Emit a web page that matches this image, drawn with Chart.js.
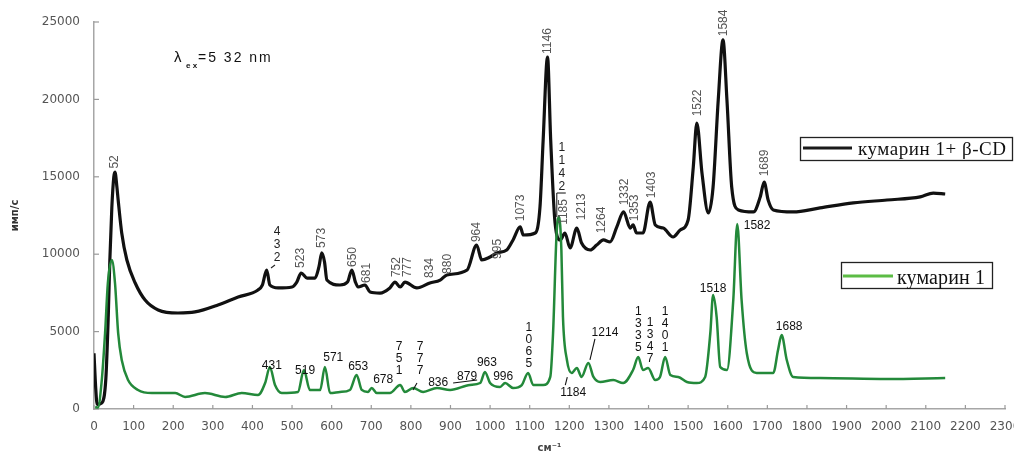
<!DOCTYPE html>
<html><head><meta charset="utf-8">
<script src="https://cdn.jsdelivr.net/npm/chart.js@4.4.1/dist/chart.umd.min.js"></script>
<style>html,body{margin:0;padding:0;background:#fff}#wrap{width:1014px;height:455px}</style>
</head><body><div id="wrap"><canvas id="c" width="1014" height="455"></canvas></div>
<script>
// ---- data (wavenumber cm-1, intensity counts/s) ----
const blackX = [0,4,8,20,30,36,40,45,50,53,58,61,70,83,104,129,162,212,255,313,364,414,425,436,444,465,500,512,523,538,558,568,575,582,588,621,640,651,660,667,684,697,722,747,760,773,785,815,848,874,891,942,966,979,1000,1017,1042,1058,1076,1084,1114,1126,1134,1145,1153,1164,1177,1189,1202,1219,1231,1253,1269,1286,1303,1320,1337,1354,1361,1370,1386,1404,1417,1437,1462,1480,1500,1513,1522,1535,1551,1563,1576,1588,1598,1610,1627,1665,1682,1692,1702,1715,1765,1833,1917,2002,2086,2119,2149];
const blackY = [3600,1500,300,400,2000,6000,9625,13000,15000,15300,14300,13500,11370,9625,8140,7040,6400,6200,6270,6720,7235,7690,8000,8980,8010,7820,7880,8200,8785,8460,8460,9200,10080,9500,8330,8010,8200,8980,8200,7880,8010,7560,7490,7820,8200,7880,8200,7820,8140,8330,8660,8980,10590,9625,9820,10080,10270,10920,11760,11240,11370,13050,17380,22740,17380,12020,10920,11370,10400,11690,10720,10270,10590,10920,10790,11760,12730,11690,11890,11370,11370,13370,11890,11690,11110,11560,12210,15630,18475,15240,12660,14340,19960,23840,19960,14340,12860,12730,13700,14665,13500,12860,12730,12990,13310,13500,13700,13950,13890];
const greenX = [3,10,19,28,35,45,53,61,70,86,111,146,205,230,280,331,373,414,432,444,457,474,515,530,545,571,583,596,621,646,663,676,692,701,714,747,773,785,806,831,866,899,949,975,987,1000,1025,1038,1058,1080,1096,1109,1134,1152,1159,1168,1174,1180,1184,1194,1206,1219,1231,1248,1261,1278,1311,1336,1361,1374,1386,1399,1417,1429,1442,1455,1475,1497,1522,1543,1556,1563,1572,1581,1598,1614,1624,1635,1648,1673,1715,1727,1736,1749,1765,1833,2002,2149];
const greenY = [130,100,1680,4900,8140,9625,8140,4900,3165,1870,1230,1030,1030,780,1030,780,1030,900,1680,2710,1550,1030,1100,2520,1230,1230,2710,1030,1100,1230,2200,1230,1100,1360,1030,1030,1550,1100,1360,1100,1360,1230,1550,1680,2390,1680,1420,1680,1360,1550,2330,1550,1550,2070,4900,11370,12400,10270,5940,3165,2330,2650,2070,2970,2070,1745,1870,1680,2520,3360,2520,2650,1870,2070,3360,2200,2070,1745,1680,2070,4900,7365,5940,2710,2520,7040,11950,7040,3620,2330,2330,3810,4780,3165,2070,2000,1940,2000];
const seriesNames = ['кумарин 1+ β-CD', 'кумарин 1'];

// peak labels: text, anchor wavenumber, anchor intensity
const blackLabelText = ['52','4\n3\n2','523','573','650','681','752','777','834','880','964','995','1073','1146','1\n1\n4\n2','1185','1213','1264','1332','1353','1403','1522','1584','1689'];
const blackLabelX = [53,462,523,576,654,689,765,793,848,894,967,1018,1076,1146,1181,1187,1232,1283,1341,1366,1407,1525,1591,1694];
const blackLabelY = [15960,11430,9760,11050,9820,8790,9170,9170,9110,9370,11430,10340,12990,23770,16860,12730,13050,12210,14020,12990,14470,19770,24940,15890];
const greenLabelText = ['431','519','571','653','678','7\n5\n1','7\n7\n7','836','879','963','996','1\n0\n6\n5','1184','1214','1\n3\n3\n5','1\n3\n4\n7','1\n4\n0\n1','1518','1582','1688'];
const greenLabelX = [449,533,604,667,730,770,823,869,942,992,1033,1098,1210,1290,1374,1404,1442,1563,1674,1755];
const greenLabelY = [2780,2460,3300,2710,1870,4010,4010,1680,2070,2970,2070,5230,1030,4910,6270,5560,6270,7750,11820,5300];

const xTicksMax = 2300, yTicksMax = 25000;

function pts(xs, ys){ return xs.map((x,i)=>({x:x, y:ys[i]})); }

const BLACK = '#111111', GREEN = '#23893a', GREEN_LEG = '#5cbc45';

// leader strokes for some labels (pixel offsets from the label anchor)
const leaderStyle = {
  '4\n3\n2': [[-2,33,-6,36]],
  '1\n1\n4\n2': [[-5,45,4,45],[-5,45,-5,69]],
  '7\n7\n7': [[-3,36,-7,43]],
  '879': [[-14,6,10,3]],
  '1184': [[-8,-8,-6,-16]],
  '1214': [[-10,6,-15,27]]
};

const decorPlugin = {
  id:'decor',
  beforeDatasetsDraw(chart){
    const ctx = chart.ctx, xs = chart.scales.x, ys = chart.scales.y;
    ctx.save();
    ctx.strokeStyle = '#9a9a9a'; ctx.lineWidth = 1.2;
    xs.ticks.forEach(t=>{ const p = xs.getPixelForValue(t.value); ctx.beginPath(); ctx.moveTo(p, ys.bottom); ctx.lineTo(p, ys.bottom-4); ctx.stroke(); });
    ys.ticks.forEach(t=>{ const p = ys.getPixelForValue(t.value); ctx.beginPath(); ctx.moveTo(xs.left, p); ctx.lineTo(xs.left+5, p); ctx.stroke(); });
    ctx.restore();
  },
  afterDatasetsDraw(chart){
    const ctx = chart.ctx, xs = chart.scales.x, ys = chart.scales.y;
    ctx.save();
    const leaders = (t, px, py, col)=>{
      const L = leaderStyle[t]; if (!L) return;
      ctx.strokeStyle = col; ctx.lineWidth = 1.1;
      L.forEach(s=>{ ctx.beginPath(); ctx.moveTo(px+s[0], py+s[1]); ctx.lineTo(px+s[2], py+s[3]); ctx.stroke(); });
    };
    blackLabelText.forEach((t,i)=>{
      const px = xs.getPixelForValue(blackLabelX[i]), py = ys.getPixelForValue(blackLabelY[i]);
      ctx.font = '12px "Liberation Sans", Arial, sans-serif';
      ctx.textAlign = 'center'; ctx.textBaseline = 'middle';
      if (t.indexOf('\n')>=0){
        ctx.fillStyle = '#222';
        t.split('\n').forEach((d,k)=>ctx.fillText(d, px, py + k*13));
      } else {
        ctx.fillStyle = '#555';
        ctx.save(); ctx.translate(px, py); ctx.rotate(-Math.PI/2); ctx.fillText(t, 0, 0); ctx.restore();
      }
      leaders(t, px, py, '#222');
    });
    greenLabelText.forEach((t,i)=>{
      const px = xs.getPixelForValue(greenLabelX[i]), py = ys.getPixelForValue(greenLabelY[i]);
      ctx.font = '12px "Liberation Sans", Arial, sans-serif';
      ctx.textAlign = 'center'; ctx.textBaseline = 'middle'; ctx.fillStyle = '#111';
      t.split('\n').forEach((d,k)=>ctx.fillText(d, px, py + k*12));
      leaders(t, px, py, '#111');
    });
    const ax = chart.chartArea.left, ay = chart.chartArea.top;
    ctx.fillStyle = '#111'; ctx.textAlign = 'left'; ctx.textBaseline = 'alphabetic';
    ctx.font = '15px "Liberation Sans", Arial, sans-serif';
    ctx.fillText('λ', ax + 80, ay + 40);
    ctx.font = 'bold 8px "Liberation Sans", Arial, sans-serif';
    ctx.fillText('e x', ax + 92, ay + 46);
    ctx.font = '14px "Liberation Sans", Arial, sans-serif';
    ctx.letterSpacing = '2px';
    ctx.fillText('=5 32 nm', ax + 104, ay + 40);
    ctx.letterSpacing = '0px';
    const legs = [
      {bx:800, by:137, bw:212, bh:23, l1:803, l2:852, ly:148, tx:858, ty:155, tw:148, col:'#1a1a1a', size:19, name:chart.data.datasets[0].label},
      {bx:841, by:262, bw:151, bh:26, l1:843, l2:893, ly:276, tx:897, ty:284, tw:88, col:GREEN_LEG, size:20, name:chart.data.datasets[1].label}
    ];
    legs.forEach(L=>{
      ctx.fillStyle = '#fff'; ctx.fillRect(L.bx, L.by, L.bw, L.bh);
      ctx.strokeStyle = '#222'; ctx.lineWidth = 1.3; ctx.strokeRect(L.bx+0.5, L.by+0.5, L.bw, L.bh);
      ctx.strokeStyle = L.col; ctx.lineWidth = 3; ctx.beginPath(); ctx.moveTo(L.l1, L.ly); ctx.lineTo(L.l2, L.ly); ctx.stroke();
      ctx.fillStyle = '#111'; ctx.font = L.size + 'px "Liberation Serif", "Times New Roman", serif';
      const w = ctx.measureText(L.name).width;
      const sp = Math.max(0, (L.tw - w) / Math.max(1, L.name.length-1));
      ctx.letterSpacing = sp.toFixed(2) + 'px';
      ctx.fillText(L.name, L.tx, L.ty);
      ctx.letterSpacing = '0px';
    });
    ctx.restore();
  }
};

new Chart(document.getElementById('c'), {
  type:'line',
  data:{ datasets:[
    {label:seriesNames[0], data:pts(blackX, blackY), borderColor:BLACK, borderWidth:3.2, pointRadius:0, cubicInterpolationMode:'monotone', fill:false, order:1},
    {label:seriesNames[1], data:pts(greenX, greenY), borderColor:GREEN, borderWidth:2.5, pointRadius:0, cubicInterpolationMode:'monotone', fill:false, order:0}
  ]},
  options:{
    responsive:false, animation:false, events:[],
    layout:{padding:{top:22, right:9, left:0, bottom:0}},
    plugins:{legend:{display:false}, tooltip:{enabled:false}},
    scales:{
      x:{type:'linear', min:0, max:xTicksMax,
        ticks:{stepSize:100, autoSkip:false, maxRotation:0, padding:11, color:'#555', font:{family:'"DejaVu Sans", sans-serif', size:12}, callback:v=>String(v)},
        grid:{display:true, drawOnChartArea:false, drawTicks:false},
        border:{color:'#a6a6a6', width:1.5},
        title:{display:true, text:'см⁻¹', color:'#444', font:{family:'"DejaVu Sans", sans-serif', size:10, weight:'bold'}, padding:{top:0,bottom:1}},
        afterFit(s){ s.height = 46; s.paddingLeft = 0; s.paddingRight = 0; }
      },
      y:{type:'linear', min:0, max:yTicksMax,
        ticks:{stepSize:5000, padding:14, color:'#555', font:{family:'"DejaVu Sans", sans-serif', size:12}, callback:v=>String(v)},
        grid:{display:true, drawOnChartArea:false, drawTicks:false},
        border:{color:'#a6a6a6', width:1.5},
        title:{display:true, text:'имп/с', color:'#333', font:{family:'"DejaVu Sans", sans-serif', size:10, weight:'bold'}, padding:{top:9,bottom:0}},
        afterFit(s){ s.width = 94; s.paddingTop = 0; s.paddingBottom = 0; }
      }
    }
  },
  plugins:[decorPlugin]
});
</script></body></html>
